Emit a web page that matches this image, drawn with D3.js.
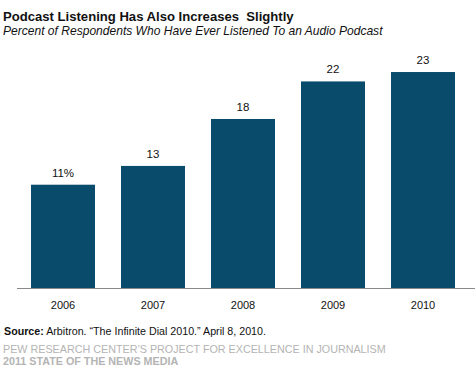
<!DOCTYPE html>
<html><head><meta charset="utf-8">
<script src="https://cdn.jsdelivr.net/npm/d3@7"></script>
<style>body{margin:0;background:#fff;} svg{display:block;font-family:"Liberation Sans",Arial,sans-serif;} text{white-space:pre;}</style>
</head><body>
<script>
const years = ["2006","2007","2008","2009","2010"];
const values = [11,13,18,22,23];
const valueLabels = ["11%","13","18","22","23"];

const W=475,H=378;
const svg=d3.select("body").append("svg").attr("width",W).attr("height",H);

const x=d3.scaleBand().domain(years).range([18,468]).paddingInner(0.2889).paddingOuter(0.1444);
const y=d3.scaleLinear().domain([0,25]).range([288,288-25*9.39]);

svg.append("text").attr("x",3).attr("y",21).attr("font-size",13.1).attr("font-weight","bold").attr("fill","#111")
  .attr("xml:space","preserve")
  .text("Podcast Listening Has Also Increases  Slightly");
svg.append("text").attr("x",3).attr("y",35).attr("font-size",12.05).attr("font-style","italic").attr("fill","#111")
  .text("Percent of Respondents Who Have Ever Listened To an Audio Podcast");

svg.selectAll("rect.bar").data(values).join("rect").attr("class","bar")
  .attr("x",(d,i)=>x(years[i])).attr("width",x.bandwidth())
  .attr("y",d=>y(d)).attr("height",d=>y(0)-y(d)).attr("fill","#084b6b");

svg.selectAll("text.val").data(values).join("text").attr("class","val")
  .attr("x",(d,i)=>x(years[i])+x.bandwidth()/2).attr("y",d=>y(d)-8)
  .attr("text-anchor","middle").attr("font-size",11.5).attr("fill","#111")
  .text((d,i)=>valueLabels[i]);

const axis=d3.axisBottom(x).tickSize(0).tickPadding(0);
const g=svg.append("g").attr("transform",`translate(0,${y(0)})`).call(axis);
g.select(".domain").attr("stroke","#888").attr("d","M17,0.5H475");
g.selectAll(".tick text").attr("font-size",11).attr("fill","#111").attr("dy","0").attr("y",21)
  .attr("font-family","Liberation Sans, Arial, sans-serif");

const src=svg.append("text").attr("x",4).attr("y",335).attr("font-size",10.7).attr("fill","#111");
src.append("tspan").attr("font-weight","bold").text("Source:");
src.append("tspan").text(" Arbitron. \u201cThe Infinite Dial 2010.\u201d April 8, 2010.");

svg.append("text").attr("x",3).attr("y",353).attr("font-size",10.75).attr("fill","#b4b4b4")
  .text("PEW RESEARCH CENTER\u2019S PROJECT FOR EXCELLENCE IN JOURNALISM");
svg.append("text").attr("x",3).attr("y",365).attr("font-size",10.75).attr("font-weight","bold").attr("fill","#b4b4b4")
  .text("2011 STATE OF THE NEWS MEDIA");
</script>
</body></html>
